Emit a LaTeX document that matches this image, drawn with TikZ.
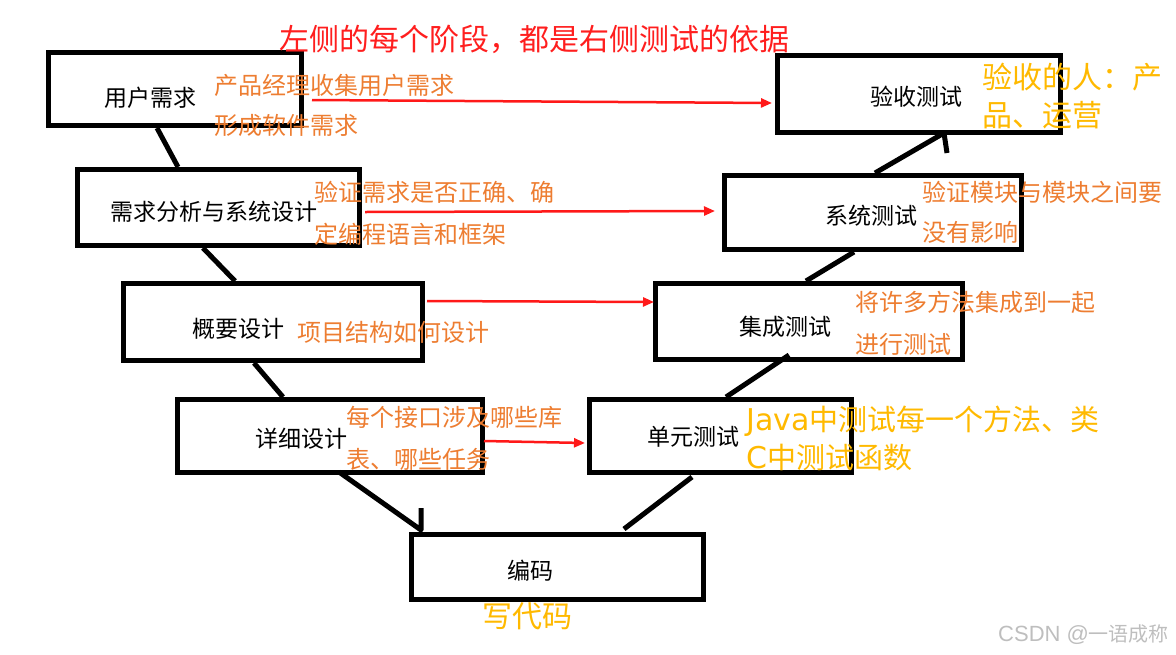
\documentclass[tikz,border=0pt]{standalone}
\usepackage{fontspec}
\setmainfont{Noto Sans CJK SC}
\newfontfamily\latinwide{DejaVu Sans}
\newfontfamily\latinmark{Liberation Sans}
\usetikzlibrary{arrows.meta,calc}
\definecolor{titlered}{RGB}{255,30,30}
\definecolor{noteorange}{RGB}{237,125,49}
\definecolor{noteyellow}{RGB}{255,185,0}
\definecolor{arrowred}{RGB}{255,25,25}
\definecolor{markgrey}{RGB}{190,190,190}
\begin{document}
\begin{tikzpicture}[x=1pt,y=-1pt,
  stagebox/.style={draw=black,line width=5pt,inner sep=0pt,rectangle},
  blk/.style={font=\fontsize{23}{23}\selectfont,inner sep=0pt,text height=18.4pt,text depth=2.3pt},
  orn/.style={font=\fontsize{24}{24}\selectfont,text=noteorange,inner sep=0pt,anchor=west,text height=19.2pt,text depth=2.4pt},
  yel/.style={font=\fontsize{30}{30}\selectfont,text=noteyellow,inner sep=0pt,anchor=west,text height=24pt,text depth=3pt},
  vline/.style={draw=black,line width=5pt,line join=round},
  redarrow/.style={draw=arrowred,line width=2.5pt,-{Triangle[length=11pt,width=9pt]}}
]
\useasboundingbox (0,0) rectangle (1176,654);

% boxes
\node[stagebox,minimum width=253pt,minimum height=73pt] (ur) at (175,89) {};
\node[stagebox,minimum width=282pt,minimum height=76pt] (req) at (218.5,207.5) {};
\node[stagebox,minimum width=299pt,minimum height=77pt] (hl) at (273,322) {};
\node[stagebox,minimum width=305pt,minimum height=73pt] (dd) at (330,436) {};
\node[stagebox,minimum width=292pt,minimum height=65pt] (code) at (557.5,567) {};
\node[stagebox,minimum width=262pt,minimum height=73pt] (ut) at (720.5,436) {};
\node[stagebox,minimum width=307pt,minimum height=76pt] (it) at (809,321.5) {};
\node[stagebox,minimum width=297pt,minimum height=74pt] (st) at (873,212.5) {};
\node[stagebox,minimum width=283pt,minimum height=77pt] (at) at (919,94) {};

% box texts
\node[blk] (tur) at (150,98) {用户需求};
\node[blk] (treq) at (214,212) {需求分析与系统设计};
\node[blk] (thl) at (238,329) {概要设计};
\node[blk] (tdd) at (301,439) {详细设计};
\node[blk] (tcode) at (530,571) {编码};
\node[blk] (tut) at (693,437) {单元测试};
\node[blk] (tit) at (785,327) {集成测试};
\node[blk] (tst) at (871,216) {系统测试};
\node[blk] (tat) at (916,97) {验收测试};

% V connectors
\draw[vline] ([xshift=111pt]ur.south west) -- ([xshift=103pt]req.north west);
\draw[vline] ([xshift=128pt]req.south west) -- ([xshift=114pt]hl.north west);
\draw[vline] ([xshift=133pt]hl.south west) -- ([xshift=108pt]dd.north west);
\draw[vline] ([xshift=164pt,yshift=3pt]dd.south west) -- ([xshift=12pt,yshift=2pt]code.north west) -- ++(0,-22);
\draw[vline] ([xshift=-82pt,yshift=3pt]code.north east) -- ([xshift=105pt,yshift=-2pt]ut.south west);
\draw[vline] ([xshift=139pt]ut.north west) -- ([xshift=136pt,yshift=7pt]it.south west);
\draw[vline] ([xshift=153pt]it.north west) -- ([xshift=132pt]st.south west);
\draw[vline] ([xshift=153pt]st.north west) -- ([xshift=169pt,yshift=2pt]at.south west) -- ++(3,20);

% red arrows
\draw[redarrow] ([xshift=8pt,yshift=-11pt]ur.east) -- ([xshift=-3pt,yshift=-9pt]at.west);
\draw[redarrow] ([xshift=3pt,yshift=-4.5pt]req.east) -- ([xshift=-7pt,yshift=1.5pt]st.west);
\draw[redarrow] ([xshift=2pt,yshift=21pt]hl.east) -- ([xshift=1pt,yshift=19.5pt]it.west);
\draw[redarrow] ([xshift=-1pt,yshift=-5pt]dd.east) -- ([xshift=-2pt,yshift=-7pt]ut.west);

% orange notes
\node[orn] (n1a) at (214,86) {产品经理收集用户需求};
\node[orn] (n1b) at (214,126) {形成软件需求};
\node[orn] (n2a) at (314,193) {验证需求是否正确、确};
\node[orn] (n2b) at (314,235) {定编程语言和框架};
\node[orn] (n3) at (297,333) {项目结构如何设计};
\node[orn] (n4a) at (346,418) {每个接口涉及哪些库};
\node[orn] (n4b) at (346,460) {表、哪些任务};
\node[orn] (n5a) at (855,303) {将许多方法集成到一起};
\node[orn] (n5b) at (855,345) {进行测试};
\node[orn] (n6a) at (922,193) {验证模块与模块之间要};
\node[orn] (n6b) at (922,233) {没有影响};

% yellow notes
\node[yel] (y1a) at (982,78) {验收的人：产};
\node[yel] (y1b) at (982,116) {品、运营};
\node[yel,font=\fontsize{29}{29}\selectfont] (y2a) at (746,420) {{\latinwide\fontsize{30}{30}\selectfont Java}中测试每一个方法、类};
\node[yel,font=\fontsize{29}{29}\selectfont] (y2b) at (746,458) {{\latinwide\fontsize{30}{30}\selectfont C}中测试函数};
\node[yel] (y3) at (482,617) {写代码};

% title
\node[font=\fontsize{30}{30}\selectfont,text=titlered,inner sep=0pt,anchor=west,text height=24pt,text depth=3pt] (title) at (279,40) {左侧的每个阶段，都是右侧测试的依据};

% watermark
\node[font=\fontsize{20}{20}\selectfont,text=markgrey,inner sep=0pt,anchor=west,text height=15pt,text depth=2pt] (wm) at (998,635) {{\latinmark\fontsize{22}{22}\selectfont CSDN @}一语成称};
\end{tikzpicture}
\end{document}
